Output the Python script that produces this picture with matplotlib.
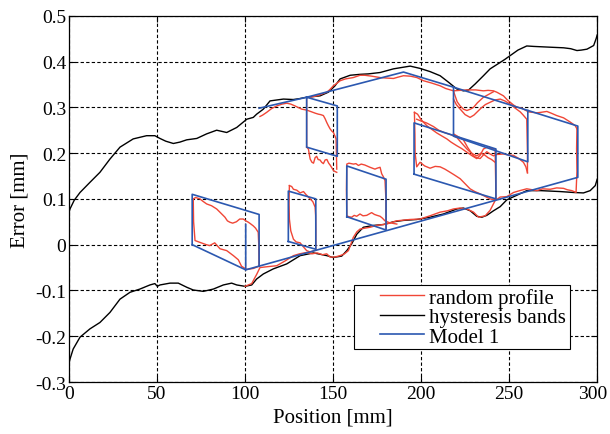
import numpy as np
import matplotlib
matplotlib.use("Agg")
import matplotlib.pyplot as plt
import matplotlib.transforms as mtransforms
from matplotlib.patches import Rectangle

plt.rcParams['font.family'] = ['Liberation Serif', 'DejaVu Serif']
plt.rcParams['font.size'] = 15

# hysteresis bands (black)
band_up_x = [0, 0.6, 3, 6.3, 11.9, 17.6, 23.3, 29, 36.5, 44.1, 48.8, 51.7, 55, 59.3, 63, 66.9, 72.6,
             78.2, 83.9, 89.6, 95.3, 101, 104.7, 106.6, 110.4, 114.2, 118, 121.8, 127.4, 131, 135,
             142.6, 147.3, 151.1, 154, 159.7, 165.3, 170, 176.7, 184.3, 189, 193.8, 199.4, 205.1,
             210.8, 215.5, 220.3, 224, 227, 230.7, 235.4, 239.2, 244.9, 247.7, 250.6, 255, 260,
             264, 269.5, 275, 280.9, 285, 288.5, 291, 294.2, 298, 299.4, 300]
band_up_y = [0.07, 0.078, 0.097, 0.114, 0.136, 0.158, 0.187, 0.213, 0.231, 0.238, 0.238, 0.232,
             0.226, 0.221, 0.224, 0.229, 0.232, 0.242, 0.25, 0.245, 0.256, 0.274, 0.278, 0.285,
             0.296, 0.314, 0.316, 0.318, 0.317, 0.319, 0.322, 0.325, 0.333, 0.347, 0.362, 0.37,
             0.372, 0.373, 0.376, 0.384, 0.387, 0.39, 0.385, 0.378, 0.369, 0.355, 0.34, 0.336,
             0.338, 0.351, 0.369, 0.384, 0.398, 0.405, 0.413, 0.425, 0.434, 0.433, 0.432, 0.431,
             0.43, 0.428, 0.424, 0.425, 0.427, 0.435, 0.45, 0.458]
band_lo_x = [0, 0.6, 2.4, 6.3, 11.9, 17.6, 23.3, 29, 34.7, 40.3, 46, 48.8, 50.2, 51.7, 57.4, 62.1,
             66.9, 70.6, 76.3, 82, 87.7, 92.4, 95.3, 100, 103.8, 106.6, 110.4, 116, 123.7, 131.3,
             138.9, 146.5, 150, 154.9, 157.8, 160.6, 163.5, 167.2, 172.9, 178.6, 184.3, 190,
             197.6, 205.1, 212.7, 220.3, 224, 227.9, 231.6, 234.5, 237.3, 241.1, 244.9, 248.7,
             254.4, 260, 268, 278.9, 286.5, 292.2, 296, 298.9, 300]
band_lo_y = [-0.26, -0.25, -0.228, -0.202, -0.184, -0.17, -0.148, -0.119, -0.104, -0.097, -0.088,
             -0.085, -0.091, -0.088, -0.084, -0.084, -0.093, -0.099, -0.102, -0.097, -0.088,
             -0.084, -0.088, -0.091, -0.088, -0.075, -0.064, -0.053, -0.042, -0.024, -0.018,
             -0.024, -0.028, -0.025, -0.013, 0.002, 0.023, 0.038, 0.042, 0.044, 0.05, 0.053,
             0.055, 0.06, 0.067, 0.078, 0.08, 0.074, 0.062, 0.06, 0.064, 0.074, 0.083, 0.098,
             0.108, 0.118, 0.118, 0.116, 0.114, 0.113, 0.118, 0.129, 0.143]

# Model 1 (blue) segments
model_segs = [
    [(108, 0.298), (135, 0.322), (190, 0.377), (218.4, 0.344), (289, 0.259), (289, 0.147), (100.4, -0.055)],
    [(70, 0.0), (70, 0.11), (108, 0.066), (108, -0.047)],
    [(70, 0.0), (100.4, -0.055), (100.4, 0.044)],
    [(124.6, 0.007), (124.6, 0.117), (140.2, 0.1), (140.2, -0.01), (124.6, 0.007)],
    [(135, 0.322), (152.4, 0.303), (152.4, 0.193), (135, 0.213), (135, 0.322)],
    [(157.8, 0.061), (157.8, 0.172), (180.1, 0.143), (180.1, 0.032), (157.8, 0.061)],
    [(196, 0.154), (196, 0.266), (242.5, 0.209), (242.5, 0.1), (196, 0.154)],
    [(218.4, 0.344), (218.4, 0.237), (260.6, 0.181), (260.6, 0.293)],
]

# random profile (red) traces
profile_traces = [
    [(108, -0.047), (107.8, 0.0), (107.5, 0.027), (106, 0.036), (104.7, 0.041), (103, 0.046),
     (101.9, 0.049), (100.5, 0.052), (99, 0.056), (97, 0.056), (95.1, 0.05), (93, 0.047),
     (91.4, 0.049), (90, 0.052), (88.6, 0.06), (86, 0.07), (83.9, 0.078), (81, 0.085),
     (78.2, 0.089), (76, 0.095), (74.4, 0.1), (72, 0.103), (70.6, 0.1), (70.8, 0.05),
     (71.6, 0.009), (74.4, 0.005), (78, 0.0), (79.9, -0.002), (82.8, 0.004), (85.8, -0.009),
     (89.6, -0.013), (93.4, -0.024), (96.2, -0.033), (98, -0.047), (100.8, -0.054),
     (104.7, -0.052), (108, -0.047)],
    [(100, -0.091), (103.8, -0.085), (106.6, -0.065), (108.5, -0.05), (113, -0.048),
     (118, -0.046), (123, -0.035), (127.5, -0.024), (131, -0.02), (135, -0.017), (138, -0.02),
     (141, -0.018), (144, -0.022), (146.4, -0.02), (148.3, -0.027), (151, -0.027),
     (154, -0.024), (156.5, -0.02), (158.7, -0.013), (160, 0.0), (161.5, 0.016),
     (163.5, 0.028), (165.3, 0.034), (168, 0.036), (171, 0.038), (174.7, 0.042),
     (180.4, 0.045), (186, 0.052), (193.6, 0.055), (199.4, 0.056), (205, 0.063),
     (210.8, 0.071), (215, 0.074), (218.4, 0.078), (222, 0.08), (226, 0.078), (229.8, 0.071),
     (232.6, 0.06), (236.4, 0.063), (239.2, 0.075), (242, 0.096), (244.9, 0.104),
     (248.7, 0.105), (252.5, 0.114), (256, 0.118), (260, 0.122), (263, 0.12), (265.7, 0.118),
     (269, 0.122), (273.3, 0.121), (277, 0.124), (280.9, 0.123), (283, 0.12), (285.6, 0.118),
     (288, 0.114), (288.5, 0.16), (288.3, 0.21), (288.5, 0.253)],
    [(288.5, 0.253), (287.5, 0.26), (284.6, 0.268), (280.9, 0.277), (277, 0.282), (274, 0.287),
     (271.4, 0.291), (268, 0.289), (265.7, 0.288), (261, 0.29), (257.2, 0.298), (254, 0.301),
     (252.5, 0.305), (249, 0.316), (246.8, 0.325), (243, 0.333), (241.1, 0.336), (238, 0.337),
     (235.4, 0.336), (231, 0.338), (227, 0.338), (222, 0.337), (218.4, 0.336), (214, 0.341),
     (210.8, 0.347), (206, 0.353), (201.4, 0.358), (197.6, 0.365), (194, 0.368), (190, 0.369),
     (187, 0.366), (184.3, 0.363), (180, 0.364), (176.7, 0.365), (172, 0.368), (168, 0.37),
     (165.3, 0.37), (161.5, 0.365), (157, 0.362), (154, 0.358), (152, 0.352), (150.2, 0.347),
     (148, 0.338), (146.4, 0.333), (143, 0.328), (140.7, 0.325), (137, 0.322), (135, 0.322),
     (135, 0.213)],
    [(108.5, 0.28), (110, 0.283), (112.3, 0.289), (115, 0.297), (118, 0.303), (121, 0.307),
     (123.7, 0.309), (126, 0.307), (128.4, 0.303), (130, 0.3), (132.2, 0.296), (135, 0.294),
     (137.9, 0.29), (140, 0.287), (141.7, 0.285), (143, 0.284), (144.5, 0.282), (145.5, 0.275),
     (146.4, 0.267), (147.3, 0.26), (148.3, 0.253), (149.3, 0.248), (150.2, 0.245),
     (151, 0.238), (151.7, 0.231), (151.9, 0.2), (152.1, 0.165)],
    [(135, 0.213), (136, 0.209), (136.6, 0.195), (137, 0.187), (138, 0.18), (138.9, 0.178),
     (139.8, 0.19), (140.7, 0.193), (141.5, 0.186), (142.6, 0.185), (143.5, 0.18),
     (144.5, 0.177), (145.5, 0.185), (146.5, 0.186), (147.5, 0.178), (148.3, 0.174),
     (149.3, 0.168), (150.2, 0.162), (151, 0.16), (152.1, 0.158)],
    [(125.2, 0.129), (126.5, 0.127), (127.5, 0.121), (129.4, 0.119), (131.3, 0.113),
     (133.2, 0.116), (134.5, 0.11), (137, 0.1), (138.5, 0.094), (139.8, 0.082), (140.1, 0.064),
     (140.2, 0.03), (140.2, -0.012)],
    [(125.2, 0.129), (125.0, 0.09), (125.2, 0.056), (126, 0.03), (127.5, 0.012), (129, 0.006),
     (131.3, 0.004), (133, -0.004), (135, -0.013), (137, -0.016), (140.2, -0.012)],
    [(157.8, 0.063), (157.6, 0.12), (157.8, 0.176), (159, 0.178), (161.6, 0.176), (163, 0.177),
     (164.4, 0.173), (166, 0.176), (168, 0.174), (171, 0.169), (173.8, 0.165), (175, 0.167),
     (176.7, 0.169), (177.6, 0.155), (178.6, 0.148), (179.5, 0.14), (180, 0.1), (180.1, 0.035)],
    [(157.8, 0.063), (159, 0.061), (160.6, 0.06), (162, 0.064), (163.4, 0.062), (165.3, 0.067),
     (167, 0.063), (169.1, 0.064), (171.9, 0.07), (173.5, 0.066), (175, 0.064), (176.7, 0.062),
     (178, 0.058), (179.5, 0.052), (182, 0.048), (186.2, 0.045)],
    [(196.2, 0.289), (198, 0.285), (200, 0.273), (203.2, 0.26), (206, 0.252), (208.9, 0.244),
     (211.5, 0.238), (214.6, 0.231), (217, 0.224), (220.3, 0.216), (223, 0.21), (226, 0.202),
     (229, 0.194), (231.6, 0.188), (233.5, 0.195), (235.4, 0.209), (237, 0.212),
     (238.3, 0.214), (240, 0.21), (242, 0.209), (242.3, 0.15), (242.5, 0.1)],
    [(196.2, 0.289), (196.5, 0.24), (196.6, 0.2), (197.5, 0.17), (199.4, 0.18), (202, 0.172),
     (205.1, 0.167), (208, 0.171), (210.8, 0.17), (213.5, 0.165), (216.5, 0.158), (219, 0.152),
     (222.2, 0.144), (225, 0.133), (227.8, 0.122), (230.5, 0.116), (233.5, 0.111),
     (236, 0.106), (239.2, 0.1), (242, 0.098)],
    [(197.5, 0.274), (200, 0.27), (203, 0.266), (207, 0.258), (210, 0.25), (213, 0.245),
     (217, 0.24), (220.3, 0.234), (223, 0.222), (226, 0.209), (228.5, 0.2), (231.6, 0.194),
     (234, 0.2), (236, 0.196), (238, 0.19), (240, 0.186), (242, 0.18)],
    [(218.4, 0.336), (219.3, 0.325), (220.5, 0.312), (222.2, 0.303), (224, 0.296), (226, 0.293),
     (228, 0.296), (229.8, 0.3), (232, 0.31), (235.4, 0.322), (239.2, 0.33), (241.1, 0.334)],
    [(218.4, 0.318), (220, 0.306), (222.2, 0.296), (225, 0.284), (227.8, 0.278), (230, 0.283),
     (231.6, 0.289), (234, 0.298), (236.5, 0.306), (239.2, 0.311), (242, 0.316),
     (244.9, 0.318), (247.5, 0.314), (250.6, 0.307), (253.5, 0.298), (256.3, 0.29),
     (258, 0.283), (260, 0.274), (260.4, 0.2), (260.4, 0.157)],
    [(218.4, 0.242), (221, 0.236), (224, 0.229), (226.5, 0.212), (229.7, 0.194),
     (231.5, 0.19), (233.5, 0.188), (235.4, 0.196), (237.3, 0.203), (239.2, 0.198),
     (241.1, 0.194), (243, 0.197), (246.8, 0.198), (249.5, 0.196), (252.5, 0.195),
     (255.5, 0.188), (258.1, 0.18), (259.5, 0.17), (260.4, 0.157)],
]

red = '#f04636'
blue = '#2b58b0'

fig = plt.figure(figsize=(6.1, 4.35), dpi=100)
ax = fig.add_axes([0.113, 0.1195, 0.866, 0.842])

for i, tr in enumerate(profile_traces):
    xs, ys = zip(*tr)
    ax.plot(xs, ys, color=red, lw=1.0, zorder=3, label='random profile' if i == 0 else None)
ax.plot(band_up_x, band_up_y, color='black', lw=1.0, zorder=2, label='hysteresis bands')
ax.plot(band_lo_x, band_lo_y, color='black', lw=1.0, zorder=2)
for i, seg in enumerate(model_segs):
    xs, ys = zip(*seg)
    ax.plot(xs, ys, color=blue, lw=1.2, zorder=4, label='Model 1' if i == 0 else None)

ax.set_xlim(0, 300)
ax.set_ylim(-0.3, 0.5)
ax.set_xticks([0, 50, 100, 150, 200, 250, 300])
ax.set_yticks([-0.3, -0.2, -0.1, 0, 0.1, 0.2, 0.3, 0.4, 0.5])
ax.set_yticklabels(['-0.3', '-0.2', '-0.1', '0', '0.1', '0.2', '0.3', '0.4', '0.5'])
ax.tick_params(direction='in', length=4, pad=2, labelsize=14, top=True, right=True)
ax.grid(True, color='black', linestyle=(0, (3, 2)), linewidth=0.8)
for s in ax.spines.values():
    s.set_linewidth(0.9)
ax.set_xlabel('Position [mm]', labelpad=4)
ax.set_ylabel('Error [mm]', labelpad=4)

# last x tick label sits a little left, as in the original
lab300 = ax.get_xticklabels()[-1]
lab300.set_transform(lab300.get_transform() +
                     mtransforms.ScaledTranslation(-5 / 100, 0, fig.dpi_scale_trans))

# legend with a wide, square frame
ax.add_patch(Rectangle((0.54, 0.09), 0.409, 0.174, transform=ax.transAxes,
                       facecolor='white', edgecolor='black', lw=0.8, zorder=5))
leg = ax.legend(loc='center left', bbox_to_anchor=(0.589, 0.177), borderaxespad=0,
                frameon=False, handlelength=2.1, handletextpad=0.25, labelspacing=0.0,
                borderpad=0)
leg.set_zorder(6)

fig.savefig('out.png', dpi=100)
